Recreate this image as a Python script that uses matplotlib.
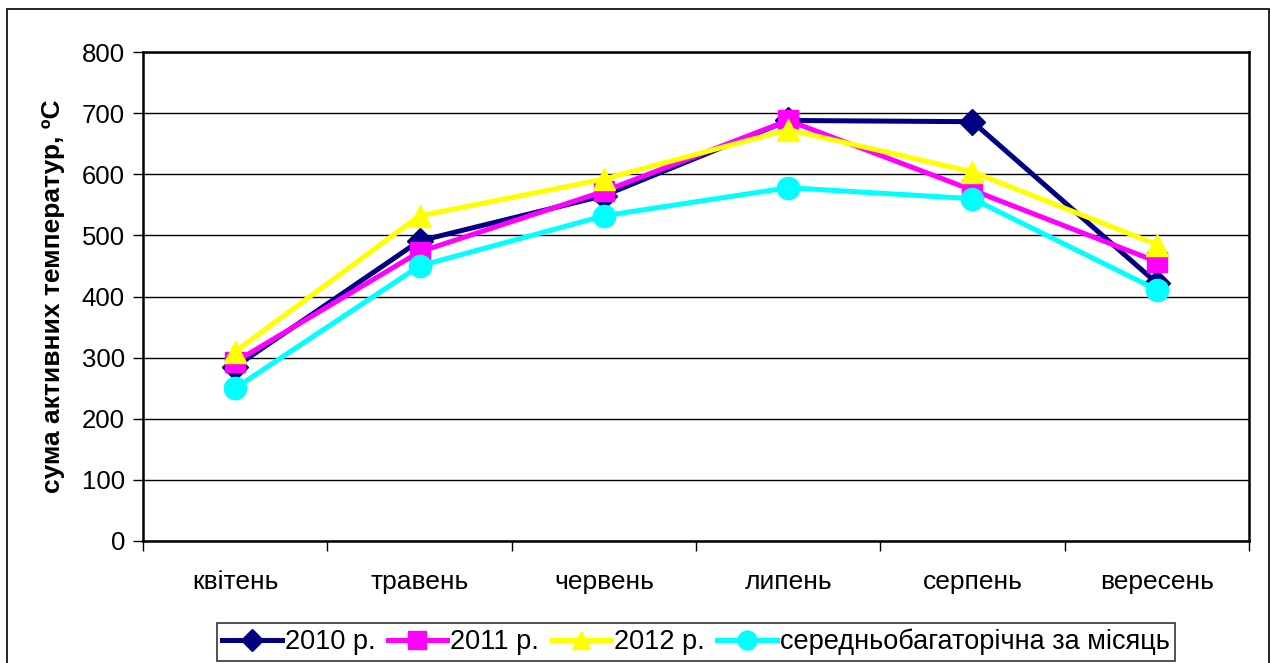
import matplotlib
matplotlib.use("Agg")
import matplotlib.pyplot as plt
from matplotlib.patches import Rectangle

months = ["квітень", "травень", "червень", "липень", "серпень", "вересень"]
s2010 = [285, 491, 565, 688, 686, 422]
s2011 = [293, 473, 572, 688, 574, 457]
s2012 = [310, 532, 592, 673, 604, 485]
avg = [250, 450, 532, 578, 560, 411]
labels = ["2010 р.", "2011 р.", "2012 р.", "середньобагаторічна за місяць"]
yticks = [0, 100, 200, 300, 400, 500, 600, 700, 800]

plt.rcParams['font.family'] = ['Liberation Sans', 'DejaVu Sans']

W, H = 1271, 663
fig = plt.figure(figsize=(W / 100, H / 100), dpi=100)
ax = fig.add_axes([143 / W, 1 - 541 / H, (1249 - 143) / W, (541 - 52) / H])

# outer chart border
fig.patches.append(Rectangle((7 / W, -0.01), (1269 - 7) / W, 1.01 - 9 / H,
                             transform=fig.transFigure, fill=False,
                             edgecolor='black', linewidth=1.2))

x = list(range(len(months)))
styles = [
    (s2010, '#000080', 'D', 13),
    (s2011, '#FF00FF', 's', 15),
    (s2012, '#FFFF00', '^', 16),
    (avg, '#00FFFF', 'o', 16),
]
handles = []
for (vals, col, mk, ms), lab in zip(styles, labels):
    h, = ax.plot(x, vals, color=col, marker=mk, markersize=ms, linewidth=3.6,
                 markeredgecolor=col, label=lab, zorder=3)
    handles.append(h)

ax.set_xlim(-0.5, len(months) - 0.5)
ax.set_ylim(0, 800)
ax.set_yticks(yticks)
ax.yaxis.grid(True, color='black', linewidth=1.0, zorder=0)
ax.set_axisbelow(True)

bounds = [i - 0.5 for i in range(len(months) + 1)]
ax.set_xticks(bounds)
ax.set_xticklabels([''] * len(bounds))
ax.set_xticks(x, minor=True)
ax.set_xticklabels(months, minor=True, fontsize=19)
ax.tick_params(axis='x', which='minor', length=0, pad=21)
ax.tick_params(axis='x', which='major', length=7, direction='out', width=1)
ax.tick_params(axis='y', length=7, direction='out', width=1, labelsize=18.5, pad=6)

for sp in ax.spines.values():
    sp.set_color('black')
    sp.set_linewidth(1.8)

ax.set_ylabel("сума активних температур, ºС", fontsize=19, fontweight='bold', labelpad=12)

leg = fig.legend(handles=handles, loc='center', bbox_to_anchor=(696 / W, 1 - 642 / H),
                 ncol=4, fontsize=19.5, frameon=True, fancybox=False,
                 handlelength=2.2, handletextpad=0.12, columnspacing=0.45,
                 borderpad=0.2, markerscale=0.85)
leg.get_frame().set_edgecolor('black')
leg.get_frame().set_linewidth(1.2)

fig.savefig("out.png", dpi=100)
